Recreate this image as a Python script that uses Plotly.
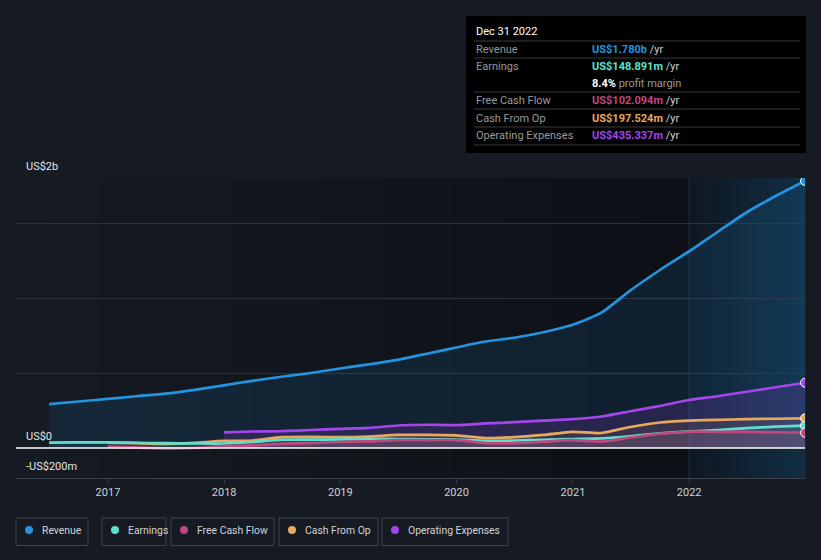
import plotly.graph_objects as go

# ---------------- data (US$ millions, trailing twelve months) ----------------
dates = ["2016-06-30", "2016-09-30", "2016-12-31", "2017-03-31", "2017-06-30", "2017-09-30",
         "2017-12-31", "2018-03-31", "2018-06-30", "2018-09-30", "2018-12-31", "2019-03-31",
         "2019-06-30", "2019-09-30", "2019-12-31", "2020-03-31", "2020-06-30", "2020-09-30",
         "2020-12-31", "2021-03-31", "2021-06-30", "2021-09-30", "2021-12-31", "2022-03-31",
         "2022-06-30", "2022-09-30", "2022-12-31"]
revenue = [293, 310, 327, 345, 362, 388, 418, 448, 475, 500, 530, 558, 588, 628, 670, 710,
           735, 772, 822, 902, 1050, 1185, 1310, 1440, 1570, 1680, 1780]
earnings = [36, 37, 37, 35, 32, 30, 30, 40, 55, 56, 57, 60, 60, 58, 56, 48, 50, 54, 60, 64,
            78, 98, 110, 120, 132, 142, 149]
free_cash_flow = [None, None, 9, 3, -2, 0, 12, 17, 28, 33, 40, 44, 53, 53, 52, 33, 32, 42, 52,
                  42, 70, 95, 108, 108, 107, 105, 102]
cash_from_op = [None, None, 36, 32, 27, 35, 47, 50, 72, 74, 72, 76, 87, 87, 84, 66, 72, 88,
                108, 100, 140, 170, 182, 188, 192, 195, 198]
operating_expenses = [None] * 6 + [104, 110, 112, 120, 127, 134, 150, 155, 152, 164, 172, 182,
                                   192, 210, 245, 280, 320, 345, 375, 405, 435]

series_names = ["Revenue", "Earnings", "Free Cash Flow", "Cash From Op", "Operating Expenses"]
colors = {"Revenue": "#2394df", "Earnings": "#5fe0cc", "Free Cash Flow": "#c2467f",
          "Cash From Op": "#e8a95e", "Operating Expenses": "#a545ee"}
fills = {"Revenue": "rgba(35,148,223,0.12)", "Earnings": "rgba(95,224,204,0.08)",
         "Free Cash Flow": "rgba(194,70,127,0.14)", "Cash From Op": "rgba(232,169,94,0.10)",
         "Operating Expenses": "rgba(165,69,238,0.16)"}

tooltip_date = "Dec 31 2022"
tooltip_rows = [("Revenue", "US$1.780b"), ("Earnings", "US$148.891m"),
                ("Free Cash Flow", "US$102.094m"), ("Cash From Op", "US$197.524m"),
                ("Operating Expenses", "US$435.337m")]
profit_margin = "8.4%"

y_labels = [("US$2b", 166), ("US$0", 436), ("-US$200m", 466)]
x_range = ["2016-03-18", "2022-12-31"]
highlight_start = "2022-01-01"

# ---------------- geometry helpers ----------------
W, H = 821, 560
L, R, T, B = 16, 16, 178, 82
PW, PH = W - L - R, H - T - B
BG = "#151a23"
FONT = "Roboto"


def px(x):
    return (x - L) / PW


def py(y):
    return (H - B - y) / PH


fig = go.Figure()

data = {"Revenue": revenue, "Earnings": earnings, "Free Cash Flow": free_cash_flow,
        "Cash From Op": cash_from_op, "Operating Expenses": operating_expenses}

draw_order = ["Revenue", "Operating Expenses", "Cash From Op", "Earnings", "Free Cash Flow"]
for name in draw_order:
    vals = data[name]
    xs = [d for d, v in zip(dates, vals) if v is not None]
    ys = [v for v in vals if v is not None]
    fig.add_trace(go.Scatter(x=xs, y=ys, mode="lines", name=name,
                             line=dict(color=colors[name], width=2.7, shape="spline", smoothing=0.6),
                             fill="tozeroy", fillcolor=fills[name], hoverinfo="skip"))
for name in draw_order:
    vals = data[name]
    fig.add_trace(go.Scatter(x=[dates[-1]], y=[vals[-1]], mode="markers", showlegend=False,
                             marker=dict(color=colors[name], size=9, line=dict(color="white", width=1)),
                             hoverinfo="skip"))

shapes = []
# left background gradient (page colour -> darker)
c0, c1 = (21, 26, 35), (13, 16, 22)
x_hl = px(689)
steps = 40
for i in range(steps):
    t = i / (steps - 1)
    c = tuple(round(a + (b - a) * t) for a, b in zip(c0, c1))
    shapes.append(dict(type="rect", xref="paper", yref="paper", x0=x_hl * i / steps,
                       x1=x_hl * (i + 1) / steps + 0.001, y0=0, y1=1, layer="below",
                       line=dict(width=0), fillcolor="rgb(%d,%d,%d)" % c))
# highlighted last-year region (blue gradient)
steps2 = 16
for i in range(steps2):
    t = i / (steps2 - 1)
    a = 0.06 + 0.16 * t
    r_ = round(13 + (35 - 13) * a)
    g_ = round(16 + (148 - 16) * a)
    b_ = round(22 + (223 - 22) * a)
    shapes.append(dict(type="rect", xref="paper", yref="paper",
                       x0=x_hl + (1 - x_hl) * i / steps2, x1=x_hl + (1 - x_hl) * (i + 1) / steps2 + 0.001,
                       y0=0, y1=1, layer="below", line=dict(width=0),
                       fillcolor="rgb(%d,%d,%d)" % (r_, g_, b_)))
shapes.append(dict(type="line", xref="x", yref="paper", x0=highlight_start, x1=highlight_start,
                   y0=0, y1=1, line=dict(color="rgba(40,80,105,0.5)", width=1), layer="below"))
# zero line
shapes.append(dict(type="line", xref="paper", yref="y", x0=0, x1=1, y0=0, y1=0,
                   line=dict(color="#ffffff", width=1.5), layer="above"))

annotations = []
for text, ypix in y_labels:
    annotations.append(dict(text=text, x=px(24), y=py(ypix), xref="paper", yref="paper",
                            xanchor="left", yanchor="middle", showarrow=False,
                            font=dict(family=FONT, size=11, color="#e6e6e6")))

# ---------------- tooltip box ----------------
shapes.append(dict(type="rect", xref="paper", yref="paper", x0=px(466), x1=px(806),
                   y0=py(153), y1=py(16), fillcolor="#000000", line=dict(width=0), layer="above"))
for ly in [41, 58, 92, 109, 127, 145]:
    shapes.append(dict(type="line", xref="paper", yref="paper", x0=px(474), x1=px(800),
                       y0=py(ly), y1=py(ly), line=dict(color="#3a3a3a", width=1), layer="above"))
annotations.append(dict(text=tooltip_date, x=px(474), y=py(31), xref="paper", yref="paper",
                        xanchor="left", yanchor="middle", showarrow=False,
                        font=dict(family=FONT, size=11, color="#ffffff")))
row_y = {"Revenue": 49, "Earnings": 66, "Free Cash Flow": 100, "Cash From Op": 118,
         "Operating Expenses": 135}
for name, val in tooltip_rows:
    annotations.append(dict(text=name, x=px(474), y=py(row_y[name]), xref="paper", yref="paper",
                            xanchor="left", yanchor="middle", showarrow=False,
                            font=dict(family=FONT, size=11, color="#9a9a9a")))
    annotations.append(dict(text="<b>%s</b> <span style='color:#d0d0d0'>/yr</span>" % val,
                            x=px(590), y=py(row_y[name]), xref="paper", yref="paper",
                            xanchor="left", yanchor="middle", showarrow=False,
                            font=dict(family=FONT, size=11, color=colors[name])))
annotations.append(dict(text="<b>%s</b> <span style='color:#9a9a9a'>profit margin</span>" % profit_margin,
                        x=px(590), y=py(83), xref="paper", yref="paper",
                        xanchor="left", yanchor="middle", showarrow=False,
                        font=dict(family=FONT, size=11, color="#ffffff")))

# ---------------- custom legend ----------------
legend_boxes = [(16, 88), (102, 166), (171, 274), (279, 378), (382, 508)]
for (x0, x1), name in zip(legend_boxes, series_names):
    shapes.append(dict(type="rect", xref="paper", yref="paper", x0=px(x0), x1=px(x1),
                       y0=py(545.5), y1=py(518), line=dict(color="#3e434e", width=1),
                       fillcolor="rgba(0,0,0,0)", layer="above"))
    shapes.append(dict(type="circle", xref="paper", yref="paper", x0=px(x0 + 9), x1=px(x0 + 17),
                       y0=py(534), y1=py(526), line=dict(width=0),
                       fillcolor=colors[name], layer="above"))
    annotations.append(dict(text=name, x=px(x0 + 24), y=py(530.5), xref="paper", yref="paper",
                            xanchor="left", yanchor="middle", showarrow=False,
                            font=dict(family=FONT, size=10.4, color="#d2d5d9")))

fig.update_layout(
    width=W, height=H, margin=dict(l=L, r=R, t=T, b=B),
    paper_bgcolor=BG, plot_bgcolor=BG, showlegend=False, hovermode=False,
    shapes=shapes, annotations=annotations,
    xaxis=dict(type="date", range=x_range, tickformat="%Y", dtick="M12", tick0="2017-01-01",
               showgrid=False, zeroline=False, showline=True, linecolor="#3a3f48", linewidth=1,
               ticks="outside", ticklen=4, tickcolor="#3a3f48",
               tickfont=dict(family=FONT, size=11, color="#cfd2d6")),
    yaxis=dict(range=[-200, 1800], tickvals=[500, 1000, 1500, 1800], showticklabels=False,
               gridcolor="#2c3039", gridwidth=1, zeroline=False, showline=False, fixedrange=True),
)

fig.write_html("out.html", config={"displayModeBar": False},
               post_script="document.body.style.margin='0px';document.body.style.background='%s';" % BG)
